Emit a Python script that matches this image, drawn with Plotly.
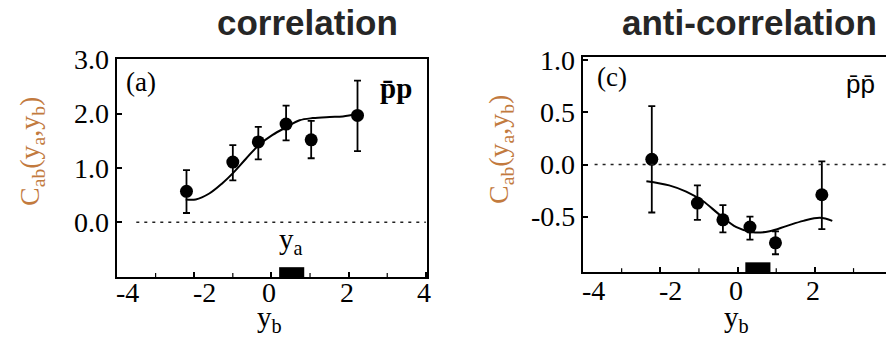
import plotly.graph_objects as go

W, H = 886, 338

# ---------------- data ----------------
# panel (a): correlation, p̄p
yb_a = [-2.2, -1.0, -0.34, 0.38, 1.03, 2.23]
c_a = [0.57, 1.11, 1.48, 1.81, 1.52, 1.97]
err_a_up = [0.39, 0.31, 0.28, 0.34, 0.35, 0.64]
err_a_dn = [0.40, 0.34, 0.32, 0.30, 0.34, 0.66]
fit_a_x = [-2.22, -1.96, -1.61, -1.27, -0.99, -0.66, -0.33, 0.03, 0.38, 0.73, 1.07, 1.51, 1.85, 2.24]
fit_a_y = [0.42, 0.42, 0.53, 0.72, 0.91, 1.17, 1.42, 1.61, 1.75, 1.88, 1.92, 1.94, 1.95, 2.0]

# panel (c): anti-correlation, p̄p̄
yb_c = [-2.22, -1.04, -0.38, 0.32, 0.98, 2.18]
c_c = [0.05, -0.37, -0.53, -0.60, -0.75, -0.29]
err_c_up = [0.51, 0.17, 0.14, 0.10, 0.11, 0.32]
err_c_dn = [0.51, 0.16, 0.12, 0.12, 0.11, 0.33]
fit_c_x = [-2.36, -1.77, -1.33, -0.9, -0.47, -0.03, 0.4, 0.83, 1.26, 1.7, 2.13, 2.45]
fit_c_y = [-0.16, -0.2, -0.26, -0.35, -0.48, -0.6, -0.65, -0.64, -0.59, -0.54, -0.51, -0.54]

# y_a bin marked on the x axis
ya_bin = [0.2, 0.85]

# ticks
x_tickvals = [-4, -2, 0, 2, 4]
x_ticktext = ["-4", "-2", "0", "2", "4"]
x_minor_tickvals = [-3, -1, 1, 3]
ya_tickvals = [0, 1, 2, 3]
ya_ticktext = ["0.0", "1.0", "2.0", "3.0"]
yc_tickvals = [-0.5, 0, 0.5, 1.0]
yc_ticktext = ["-0.5", "0.0", "0.5", "1.0"]

titles = ["correlation", "anti-correlation"]
ytitle = "C<sub>ab</sub>(y<sub>a</sub>,y<sub>b</sub>)"
xtitle = "y<sub>b</sub>"

# ---------------- figure ----------------
fig = go.Figure()

def px_x(p):
    return p / W

def px_y(p):
    return 1 - p / H

for xs, ys, up, dn, fx, fy, xa, ya in [
    (yb_a, c_a, err_a_up, err_a_dn, fit_a_x, fit_a_y, "x", "y"),
    (yb_c, c_c, err_c_up, err_c_dn, fit_c_x, fit_c_y, "x2", "y2"),
]:
    fig.add_trace(go.Scatter(
        x=fx, y=fy, mode="lines", line=dict(color="black", width=2, shape="spline", smoothing=1.0),
        xaxis=xa, yaxis=ya, showlegend=False, hoverinfo="skip"))
    fig.add_trace(go.Scatter(
        x=xs, y=ys, mode="markers",
        marker=dict(color="black", size=13, symbol="circle"),
        error_y=dict(type="data", array=up, arrayminus=dn, color="black", thickness=1.8, width=3.5),
        xaxis=xa, yaxis=ya, showlegend=False))

serif = "Liberation Serif"
tickfont = dict(family=serif, size=28, color="black")

line_common = dict(
    ticks="inside", ticklen=5, tickwidth=1.5, tickcolor="black",
    showline=True, linecolor="black", linewidth=2,
    showgrid=False, zeroline=False, showticklabels=False, automargin=False,
    tickmode="array",
)

fig.update_layout(
    width=W, height=H,
    margin=dict(l=0, r=0, t=0, b=0, pad=0),
    paper_bgcolor="white", plot_bgcolor="white",
    font=dict(family=serif, size=27, color="black"),
    xaxis=dict(domain=[117 / W, 427 / W], range=[-4.0, 4.03], anchor="y", mirror=True,
               tickvals=x_tickvals, **line_common),
    yaxis=dict(domain=[(H - 277) / H, (H - 59) / H], range=[-1.01, 3.01], anchor="x", mirror=True,
               tickvals=ya_tickvals, **line_common),
    xaxis2=dict(domain=[583 / W, 1.0], range=[-4.0, 3.84], anchor="y2", mirror=True,
                tickvals=x_tickvals, **line_common),
    yaxis2=dict(domain=[(H - 272) / H, (H - 57) / H], range=[-1.03, 1.03], anchor="x2", mirror=False,
                tickvals=yc_tickvals, **line_common),
)

# dotted zero lines, minor x ticks and y_a bins
for xr, yr, x0 in [("x", "y", -3.5), ("x2", "y2", -3.7)]:
    fig.add_shape(type="line", xref=xr, yref=yr, x0=x0, x1=4.0, y0=0, y1=0,
                  line=dict(color="#222222", width=1.6, dash="3px,5px"))
    fig.add_shape(type="rect", xref=xr, yref=yr + " domain", x0=ya_bin[0], x1=ya_bin[1], y0=0, y1=0.045,
                  fillcolor="black", line=dict(width=0))
    for mv in x_minor_tickvals:
        fig.add_shape(type="line", xref=xr, yref=yr + " domain", x0=mv, x1=mv, y0=0, y1=0.018,
                      line=dict(color="black", width=1.2))

ann = []
# tick labels, placed through the axes' own scales
for xr, ylab in [("x", 292), ("x2", 290)]:
    for v, t in zip(x_tickvals, x_ticktext):
        ann.append(dict(text=t, x=v, xref=xr, y=px_y(ylab), yref="paper",
                        xshift=10 if t.startswith("-") else -2, font=tickfont))
for yr, xlab, vals, texts in [("y", 111, ya_tickvals, ya_ticktext), ("y2", 577, yc_tickvals, yc_ticktext)]:
    for v, t in zip(vals, texts):
        ann.append(dict(text=t, x=px_x(xlab), xref="paper", y=v, yref=yr, xanchor="right", font=tickfont))

title_font = dict(family="Liberation Sans", size=35, color="#262626")
ann.append(dict(text="<b>" + titles[0] + "</b>", x=px_x(307), y=px_y(22), font=title_font))
ann.append(dict(text="<b>" + titles[1] + "</b>", x=px_x(749), y=px_y(22), font=title_font))
ycol = "#c27a3e"
ann.append(dict(text=ytitle, x=px_x(31), y=px_y(152), textangle=-90,
                font=dict(family=serif, size=28, color=ycol)))
ann.append(dict(text=ytitle, x=px_x(500), y=px_y(150), textangle=-90,
                font=dict(family=serif, size=28, color=ycol)))
ann.append(dict(text=xtitle, x=px_x(269), y=px_y(339), yanchor="bottom", font=dict(family=serif, size=29, color="black")))
ann.append(dict(text=xtitle, x=px_x(736), y=px_y(339), yanchor="bottom", font=dict(family=serif, size=29, color="black")))
ann.append(dict(text="y<sub>a</sub>", x=px_x(291), y=px_y(241), font=dict(family=serif, size=29, color="black")))
ann.append(dict(text="(a)", x=px_x(141), y=px_y(82), font=dict(family=serif, size=27, color="black")))
ann.append(dict(text="(c)", x=px_x(612), y=px_y(77), font=dict(family=serif, size=27, color="black")))
ann.append(dict(text="<b>p\u0304p</b>", x=px_x(396), y=px_y(88), font=dict(family=serif, size=29, color="black")))
ann.append(dict(text="p\u0304p\u0304", x=px_x(860), y=px_y(84), font=dict(family="Liberation Sans", size=26, color="black")))

for a in ann:
    a.setdefault("yanchor", "middle")
    a.setdefault("xanchor", "center")
    a.setdefault("xref", "paper")
    a.setdefault("yref", "paper")
    a.update(showarrow=False)
    fig.add_annotation(**a)

fig.write_html("out.html")
